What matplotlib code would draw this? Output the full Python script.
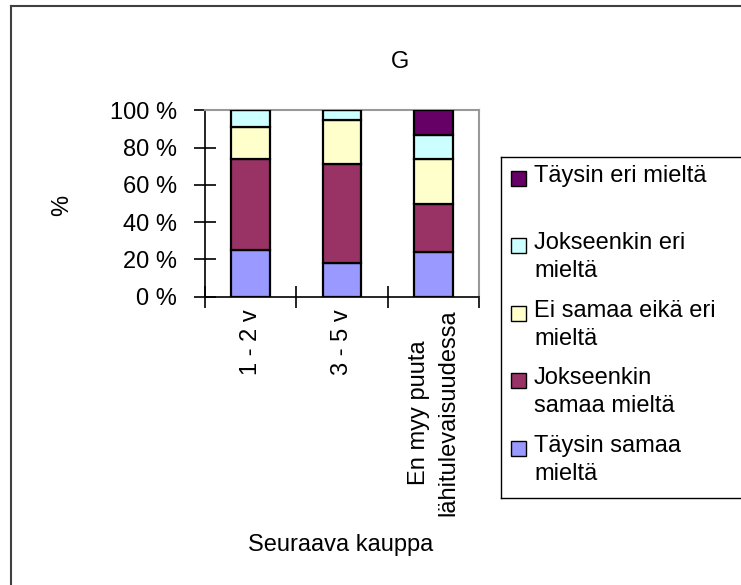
import numpy
import matplotlib
matplotlib.use('Agg')
import matplotlib.pyplot as plot
from matplotlib.lines import Line2D
from matplotlib.patches import Rectangle

##########################################################################################

# Categories (Seuraava kauppa)
categories = ['1 - 2 v', '3 - 5 v', 'En myy puuta\nlähitulevaisuudessa']

# Shares in percent, bottom to top of the stack
taysin_samaa = [25, 18, 24]
jokseenkin_samaa = [49, 53, 26]
ei_samaa_eika_eri = [17, 24, 24]
jokseenkin_eri = [9, 5, 13]
taysin_eri = [0, 0, 13]

series_names = ['Täysin samaa\nmieltä', 'Jokseenkin\nsamaa mieltä', 'Ei samaa eikä eri\nmieltä',
                'Jokseenkin eri\nmieltä', 'Täysin eri mieltä']
series_values = [taysin_samaa, jokseenkin_samaa, ei_samaa_eika_eri, jokseenkin_eri, taysin_eri]
series_colors = ['#9999FF', '#993366', '#FFFFCC', '#CCFFFF', '#660066']

yticks = [0, 20, 40, 60, 80, 100]
ytick_labels = ['0 %', '20 %', '40 %', '60 %', '80 %', '100 %']

##########################################################################################

W, H = 741, 585
fs = 17
plot.rcParams['font.family'] = ['Liberation Sans', 'DejaVu Sans']

fig = plot.figure(figsize=(W/100., H/100.), dpi=100)
fig.patch.set_facecolor('white')

# Axes placed in pixel coordinates of the reference
left, right, top, bottom = 205, 479, 110.3, 296.7
ax = fig.add_axes([left/W, 1 - bottom/H, (right-left)/W, (bottom-top)/H])

x = numpy.arange(len(categories))
base = numpy.zeros(len(categories))
for name, values, color in zip(series_names, series_values, series_colors):
    values = numpy.array(values, dtype=float)
    ax.bar(x, values, bottom=base, width=0.42, color=color, edgecolor='black', linewidth=1.6, zorder=3)
    base = base + values

ax.set_xlim(-0.5, len(categories) - 0.5)
ax.set_ylim(0, 100)

# Y axis
ax.set_yticks(yticks)
ax.set_yticklabels(ytick_labels, fontsize=fs)
ax.tick_params(axis='y', direction='inout', length=16, width=1.2, pad=12)

# X axis: ticks between categories, labels centred under bars
ax.set_xticks(numpy.arange(len(categories) + 1) - 0.5)
ax.set_xticklabels([])
ax.set_xticks(x, minor=True)
ax.set_xticklabels(categories, minor=True, rotation=90, fontsize=fs, va='top', ha='center',
                   multialignment='center', linespacing=1.45)
ax.tick_params(axis='x', which='major', direction='inout', length=16, width=1.2)
ax.tick_params(axis='x', which='minor', length=0, pad=9)

ax.spines['left'].set_color('black')
ax.spines['bottom'].set_color('black')
ax.spines['left'].set_linewidth(1.2)
ax.spines['bottom'].set_linewidth(1.2)
ax.spines['top'].set_color('#999999')
ax.spines['right'].set_color('#999999')
ax.spines['top'].set_linewidth(1.5)
ax.spines['right'].set_linewidth(1.5)

# Titles
fig.text(400/W, 1 - 62/H, 'G', fontsize=fs, ha='center', va='center')
fig.text(62/W, 1 - 205/H, '%', fontsize=fs, ha='center', va='center', rotation=90)
fig.text(341/W, 1 - 545/H, 'Seuraava kauppa', fontsize=fs, ha='center', va='center')

# Outer chart border (only left and top visible in the picture)
fig.add_artist(Line2D([11/W, 11/W], [0, 1 - 6/H], color='#404040', linewidth=1.5))
fig.add_artist(Line2D([11/W, 1], [1 - 6/H, 1 - 6/H], color='#404040', linewidth=1.5))

# Legend box, cut at the right edge
lx, ltop, lbot = 501, 157, 498
fig.add_artist(Line2D([lx/W, lx/W], [1 - lbot/H, 1 - ltop/H], color='black', linewidth=1.0))
fig.add_artist(Line2D([lx/W, 1], [1 - ltop/H, 1 - ltop/H], color='black', linewidth=1.0))
fig.add_artist(Line2D([lx/W, 1], [1 - lbot/H, 1 - lbot/H], color='black', linewidth=1.0))

# Legend entries, top entry is the top of the stack
entry_y = [178, 245, 313, 380, 448]
for i, (name, color) in enumerate(zip(series_names[::-1], series_colors[::-1])):
    yc = entry_y[i]
    fig.add_artist(Rectangle((511/W, 1 - (yc + 8)/H), 15/W, 15/H, facecolor=color, edgecolor='black', linewidth=1.0))
    fig.text(534/W, 1 - (yc - 13)/H, name, fontsize=fs, ha='left', va='top', linespacing=1.35)

plot.savefig('out.png', dpi=100)
plot.close()
